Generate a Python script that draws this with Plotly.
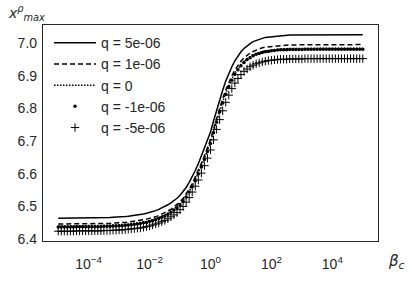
import numpy as np
import plotly.graph_objects as go

# beta_c grid: 10^-5 .. 10^5, 10 points per decade
beta = np.logspace(-5, 5, 101)

q_labels = ["q = 5e-06", "q = 1e-06", "q = 0", "q = -1e-06", "q = -5e-06"]

x_q_5e6 = [
    6.464, 6.464, 6.464, 6.464, 6.464, 6.464, 6.465, 6.465, 6.465, 6.465,
    6.465, 6.465, 6.465, 6.465, 6.466, 6.466, 6.466, 6.466, 6.467, 6.467,
    6.468, 6.469, 6.469, 6.470, 6.471, 6.472, 6.474, 6.475, 6.477, 6.479,
    6.481, 6.484, 6.487, 6.491, 6.495, 6.499, 6.505, 6.511, 6.517, 6.525,
    6.534, 6.545, 6.558, 6.574, 6.591, 6.610, 6.631, 6.654, 6.678, 6.702,
    6.728, 6.762, 6.795, 6.827, 6.856, 6.884, 6.907, 6.928, 6.946, 6.961,
    6.974, 6.984, 6.993, 6.999, 7.005, 7.009, 7.012, 7.015, 7.018, 7.019,
    7.021, 7.022, 7.023, 7.023, 7.024, 7.024, 7.025, 7.025, 7.025, 7.025,
    7.025, 7.026, 7.026, 7.026, 7.026, 7.026, 7.026, 7.026, 7.026, 7.026,
    7.026, 7.026, 7.026, 7.026, 7.026, 7.026, 7.026, 7.026, 7.026, 7.026,
    7.026,
]
x_q_1e6 = [
    6.446, 6.446, 6.446, 6.446, 6.446, 6.446, 6.447, 6.447, 6.447, 6.447,
    6.447, 6.447, 6.447, 6.447, 6.448, 6.448, 6.448, 6.448, 6.449, 6.449,
    6.450, 6.450, 6.451, 6.452, 6.453, 6.454, 6.455, 6.457, 6.459, 6.461,
    6.463, 6.465, 6.468, 6.472, 6.476, 6.480, 6.486, 6.491, 6.498, 6.506,
    6.514, 6.525, 6.538, 6.553, 6.570, 6.589, 6.610, 6.632, 6.655, 6.679,
    6.704, 6.737, 6.770, 6.801, 6.830, 6.857, 6.880, 6.900, 6.918, 6.933,
    6.945, 6.955, 6.963, 6.970, 6.975, 6.979, 6.983, 6.986, 6.988, 6.989,
    6.991, 6.992, 6.993, 6.994, 6.994, 6.994, 6.995, 6.995, 6.995, 6.995,
    6.995, 6.996, 6.996, 6.996, 6.996, 6.996, 6.996, 6.996, 6.996, 6.996,
    6.996, 6.996, 6.996, 6.996, 6.996, 6.996, 6.996, 6.996, 6.996, 6.996,
    6.996,
]
x_q_0 = [
    6.440, 6.440, 6.440, 6.440, 6.440, 6.440, 6.441, 6.441, 6.441, 6.441,
    6.441, 6.441, 6.441, 6.441, 6.441, 6.442, 6.442, 6.442, 6.443, 6.443,
    6.444, 6.444, 6.445, 6.446, 6.447, 6.448, 6.449, 6.451, 6.453, 6.454,
    6.457, 6.459, 6.462, 6.466, 6.470, 6.474, 6.479, 6.485, 6.492, 6.499,
    6.508, 6.518, 6.532, 6.547, 6.563, 6.582, 6.602, 6.624, 6.647, 6.671,
    6.696, 6.729, 6.761, 6.792, 6.820, 6.847, 6.870, 6.890, 6.908, 6.922,
    6.934, 6.944, 6.953, 6.959, 6.965, 6.969, 6.972, 6.975, 6.977, 6.978,
    6.980, 6.981, 6.982, 6.983, 6.983, 6.983, 6.984, 6.984, 6.984, 6.984,
    6.984, 6.985, 6.985, 6.985, 6.985, 6.985, 6.985, 6.985, 6.985, 6.985,
    6.985, 6.985, 6.985, 6.985, 6.985, 6.985, 6.985, 6.985, 6.985, 6.985,
    6.985,
]
x_q_m1e6 = [
    6.437, 6.437, 6.437, 6.437, 6.437, 6.437, 6.438, 6.438, 6.438, 6.438,
    6.438, 6.438, 6.438, 6.438, 6.438, 6.439, 6.439, 6.439, 6.440, 6.440,
    6.441, 6.441, 6.442, 6.443, 6.444, 6.445, 6.446, 6.448, 6.450, 6.451,
    6.454, 6.456, 6.459, 6.463, 6.467, 6.471, 6.476, 6.482, 6.489, 6.496,
    6.505, 6.515, 6.529, 6.544, 6.560, 6.579, 6.599, 6.621, 6.644, 6.668,
    6.693, 6.726, 6.758, 6.789, 6.817, 6.844, 6.867, 6.887, 6.905, 6.919,
    6.931, 6.941, 6.950, 6.956, 6.962, 6.966, 6.969, 6.972, 6.974, 6.975,
    6.977, 6.978, 6.979, 6.980, 6.980, 6.980, 6.981, 6.981, 6.981, 6.981,
    6.981, 6.982, 6.982, 6.982, 6.982, 6.982, 6.982, 6.982, 6.982, 6.982,
    6.982, 6.982, 6.982, 6.982, 6.982, 6.982, 6.982, 6.982, 6.982, 6.982,
    6.982,
]
x_q_m5e6 = [
    6.424, 6.424, 6.424, 6.424, 6.424, 6.424, 6.425, 6.425, 6.425, 6.425,
    6.425, 6.425, 6.425, 6.425, 6.425, 6.426, 6.426, 6.426, 6.427, 6.427,
    6.428, 6.428, 6.429, 6.430, 6.431, 6.432, 6.433, 6.434, 6.436, 6.438,
    6.440, 6.443, 6.446, 6.449, 6.453, 6.457, 6.462, 6.468, 6.474, 6.481,
    6.490, 6.500, 6.513, 6.527, 6.544, 6.562, 6.581, 6.602, 6.625, 6.648,
    6.673, 6.704, 6.736, 6.766, 6.793, 6.819, 6.841, 6.861, 6.878, 6.892,
    6.904, 6.914, 6.921, 6.928, 6.933, 6.937, 6.940, 6.943, 6.945, 6.947,
    6.948, 6.949, 6.950, 6.951, 6.951, 6.951, 6.952, 6.952, 6.952, 6.952,
    6.952, 6.953, 6.953, 6.953, 6.953, 6.953, 6.953, 6.953, 6.953, 6.953,
    6.953, 6.953, 6.953, 6.953, 6.953, 6.953, 6.953, 6.953, 6.953, 6.953,
    6.953,
]

xtick_vals = [1e-4, 1e-2, 1e0, 1e2, 1e4]
xtick_text = ["10<sup>\u22124</sup>", "10<sup>\u22122</sup>", "10<sup>0</sup>",
              "10<sup>2</sup>", "10<sup>4</sup>"]
ytick_vals = [6.4, 6.5, 6.6, 6.7, 6.8, 6.9, 7.0]

FONT = "Liberation Sans, Arial, sans-serif"
INK = "#262626"

fig = go.Figure()
fig.add_trace(go.Scatter(x=beta, y=x_q_5e6, mode="lines", name=q_labels[0],
                         line=dict(color="black", width=1.5)))
fig.add_trace(go.Scatter(x=beta, y=x_q_1e6, mode="lines", name=q_labels[1],
                         line=dict(color="black", width=1.5, dash="5px,3px")))
fig.add_trace(go.Scatter(x=beta, y=x_q_0, mode="lines", name=q_labels[2],
                         line=dict(color="black", width=1.5, dash="1.5px,1.5px")))
fig.add_trace(go.Scatter(x=beta, y=x_q_m1e6, mode="markers", name=q_labels[3],
                         marker=dict(symbol="circle", size=3.5, color="black",
                                     line=dict(width=0))))
fig.add_trace(go.Scatter(x=beta, y=x_q_m5e6, mode="markers", name=q_labels[4],
                         marker=dict(symbol="cross-thin", size=6, color="black",
                                     line=dict(width=1, color="black"))))

axis_common = dict(showgrid=False, zeroline=False, showline=True, mirror=True,
                   linecolor=INK, linewidth=1.25, ticks="", automargin=False,
                   tickfont=dict(family=FONT, size=14, color=INK))

fig.update_xaxes(type="log", range=[-5.5, 5.5], tickvals=xtick_vals,
                 ticktext=xtick_text, ticklabelstandoff=10, **axis_common)
fig.update_yaxes(range=[6.394, 7.056], tickvals=ytick_vals,
                 ticktext=[f"{v:.1f}" for v in ytick_vals],
                 ticklabelstandoff=2, **axis_common)

fig.update_layout(
    width=410, height=281,
    margin=dict(l=43, r=32, t=25, b=40, autoexpand=False),
    paper_bgcolor="white", plot_bgcolor="white",
    font=dict(family=FONT, size=14, color=INK),
    showlegend=True,
    legend=dict(x=0.018, y=0.99, xanchor="left", yanchor="top",
                bgcolor="rgba(0,0,0,0)", borderwidth=0,
                font=dict(family=FONT, size=14, color=INK),
                itemwidth=42, tracegroupgap=0),
    annotations=[
        dict(text="<i>x</i><sup><i>\u03c1</i></sup><sub><i>max</i></sub>",
             xref="paper", yref="paper", x=-0.11, y=1.0, xanchor="left",
             yanchor="bottom", showarrow=False,
             font=dict(family="DejaVu Sans", size=14, color=INK)),
        dict(text="<i>\u03b2</i><sub><i>c</i></sub>",
             xref="paper", yref="paper", x=1.025, y=-0.04, xanchor="left",
             yanchor="top", showarrow=False,
             font=dict(family="DejaVu Sans", size=15, color=INK)),
    ],
)

fig.write_html("out.html", config={"displayModeBar": False},
               post_script="document.body.style.margin='0';")
